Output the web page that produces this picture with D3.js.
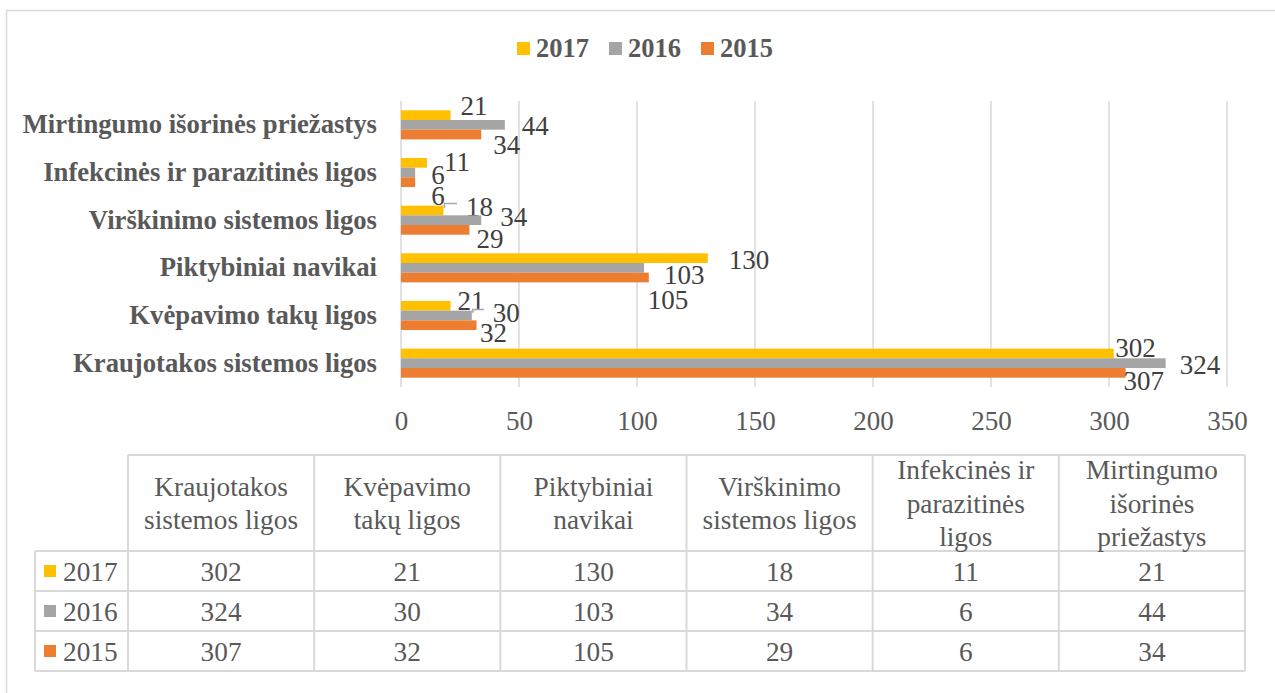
<!DOCTYPE html>
<html><head><meta charset="utf-8">
<script src="https://cdn.jsdelivr.net/npm/d3@7"></script>
<style>html,body{margin:0;padding:0;background:#fff;}svg{display:block;font-family:"Liberation Serif","Times New Roman",serif;}</style>
</head><body>
<svg id="c" width="1275" height="693"></svg>
<script>
const categories = ["Kraujotakos sistemos ligos","Kvėpavimo takų ligos","Piktybiniai navikai","Virškinimo sistemos ligos","Infekcinės ir parazitinės ligos","Mirtingumo išorinės priežastys"];
const tableHeaders = [["Kraujotakos","sistemos ligos"],["Kvėpavimo","takų ligos"],["Piktybiniai","navikai"],["Virškinimo","sistemos ligos"],["Infekcinės ir","parazitinės","ligos"],["Mirtingumo","išorinės","priežastys"]];
const seriesNames = ["2017","2016","2015"];
const values2017 = [302,21,130,18,11,21];
const values2016 = [324,30,103,34,6,44];
const values2015 = [307,32,105,29,6,34];
const tickValues = [0,50,100,150,200,250,300,350];
const colors = ["#FFC000","#A5A5A5","#ED7D31"];
// label nudges (dx from bar end, dy from bar centre), as placed in the original
const nudge2017 = [[1.5,-6],[7,-5],[21,1],[22.5,-4],[17,-1],[10,-10]];
const nudge2016 = [[14,1],[21,-3],[20,7],[19,-4],[16,2],[17,1]];
const nudge2015 = [[-2,8],[3.5,7],[-1,22],[7,9],[16,13],[12,10]];
const leader2017 = [false,false,false,true,false,false];
const leader2016 = [false,true,false,false,false,false];
const leader2015 = [false,false,false,false,false,false];

const seriesValues = [values2017, values2016, values2015];
const nudges = [nudge2017, nudge2016, nudge2015];
const leaders = [leader2017, leader2016, leader2015];

const FF = "Liberation Serif";
const svg = d3.select("#c");
const grid = "#d9d9d9", txt = "#595959", lab = "#404040";

// outer frame
svg.append("rect").attr("x",6.5).attr("y",10.5).attr("width",1300).attr("height",720)
  .attr("fill","none").attr("stroke",grid).attr("stroke-width",1.5);

const x = d3.scaleLinear().domain([0,350]).range([401,1227]);
const y = d3.scaleBand().domain(categories.slice().reverse()).range([101,387]).paddingInner(0.39).paddingOuter(0.195);
const yS = d3.scaleBand().domain(seriesNames).range([0,y.bandwidth()]);

// gridlines
svg.append("g").selectAll("line").data(tickValues).join("line")
  .attr("x1",d=>x(d)).attr("x2",d=>x(d)).attr("y1",101).attr("y2",387)
  .attr("stroke",grid).attr("stroke-width",1.5);

// x tick labels via axis
const xAxis = svg.append("g").attr("transform","translate(0,387)")
  .call(d3.axisBottom(x).tickValues(tickValues).tickSize(0).tickPadding(0));
xAxis.attr("font-family",FF);
xAxis.select(".domain").remove();
xAxis.selectAll("text").attr("font-family",FF).attr("font-size",27)
  .attr("fill",txt).attr("y",34).attr("dy","0.35em");

// category labels
const yAxis = svg.append("g").attr("transform","translate(377,0)")
  .call(d3.axisLeft(y).tickSize(0).tickPadding(0));
yAxis.attr("font-family",FF);
yAxis.select(".domain").remove();
yAxis.selectAll("text").attr("font-family",FF).attr("font-size",26.7).attr("font-weight","bold")
  .attr("fill",txt);

// bars
seriesNames.forEach((s,si)=>{
  const g = svg.append("g");
  g.selectAll("rect").data(categories).join("rect")
    .attr("x",x(0)).attr("y",(c)=>y(c)+yS(s))
    .attr("width",(c,i)=>x(seriesValues[si][i])-x(0)).attr("height",yS.bandwidth())
    .attr("fill",colors[si]);
  // leader lines
  categories.forEach((c,i)=>{
    if(!leaders[si][i]) return;
    const xe = x(seriesValues[si][i]);
    const yc = y(c)+yS(s)+yS.bandwidth()/2;
    const ly = yc + nudges[si][i][1] - 3;
    g.append("path").attr("d",`M${xe+1},${y(c)+yS(s)+2}V${ly}H${xe+nudges[si][i][0]-9}`)
      .attr("fill","none").attr("stroke","#a6a6a6").attr("stroke-width",1.5);
  });
  g.selectAll("text").data(categories).join("text")
    .attr("x",(c,i)=>x(seriesValues[si][i])+nudges[si][i][0])
    .attr("y",(c,i)=>y(c)+yS(s)+yS.bandwidth()/2+nudges[si][i][1])
    .attr("dy","0.35em").attr("font-family",FF).attr("font-size",27).attr("fill",lab)
    .text((c,i)=>seriesValues[si][i]);
});

// legend
const legendX = [517,609,701];
seriesNames.forEach((s,si)=>{
  const lx = legendX[si];
  svg.append("rect").attr("x",lx).attr("y",42).attr("width",13).attr("height",13).attr("fill",colors[si]);
  svg.append("text").attr("x",lx+19).attr("y",48).attr("dy","0.35em").attr("font-family",FF).attr("font-size",26.5)
    .attr("font-weight","bold").attr("fill",txt).text(s);
});

// data table
const colX = d3.scaleBand().domain(categories).range([128,1245]);
const rowY = d3.scaleBand().domain(seriesNames).range([551,671]);
const tg = svg.append("g");
const line = (x1,y1,x2,y2)=>tg.append("line").attr("x1",x1).attr("y1",y1).attr("x2",x2).attr("y2",y2)
  .attr("stroke",grid).attr("stroke-width",2);
line(128,455,1245,455);
line(35,551,1245,551);
seriesNames.forEach(s=>line(35,rowY(s)+rowY.bandwidth(),1245,rowY(s)+rowY.bandwidth()));
line(35,551,35,671);
line(128,455,128,671);
categories.forEach(c=>line(colX(c)+colX.bandwidth(),455,colX(c)+colX.bandwidth(),671));

categories.forEach((c,ci)=>{
  const lines = tableHeaders[ci];
  const cx = colX(c)+colX.bandwidth()/2;
  const lh = 33.5;
  const y0 = 503 - (lines.length-1)*lh/2;
  lines.forEach((t,li)=>{
    tg.append("text").attr("x",cx).attr("y",y0+li*lh).attr("dy","0.35em").attr("text-anchor","middle")
      .attr("font-family",FF).attr("font-size",27.3).attr("fill",txt).text(t);
  });
  seriesNames.forEach((s,si)=>{
    tg.append("text").attr("x",cx).attr("y",rowY(s)+rowY.bandwidth()/2).attr("dy","0.35em")
      .attr("text-anchor","middle").attr("font-family",FF).attr("font-size",27.3).attr("fill",txt).text(seriesValues[si][ci]);
  });
});
seriesNames.forEach((s,si)=>{
  const cy = rowY(s)+rowY.bandwidth()/2;
  tg.append("rect").attr("x",44).attr("y",cy-6).attr("width",12).attr("height",12).attr("fill",colors[si]);
  tg.append("text").attr("x",63).attr("y",cy).attr("dy","0.35em").attr("font-family",FF).attr("font-size",27.3).attr("fill",txt).text(s);
});
</script>
</body></html>
